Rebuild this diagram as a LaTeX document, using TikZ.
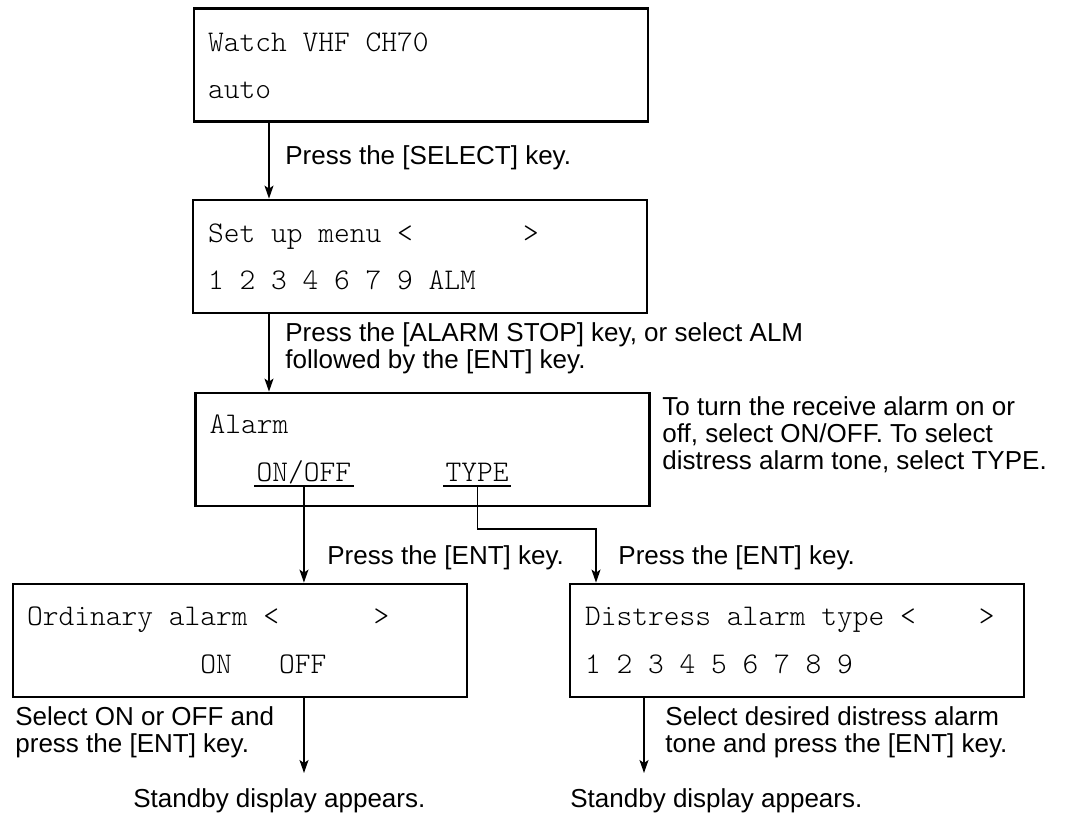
\documentclass[tikz,border=0pt]{standalone}
\usepackage{fontspec}
\setmainfont{Liberation Sans}
\usetikzlibrary{arrows.meta, positioning, calc}

\begin{document}
\begin{tikzpicture}[
    x=0.5pt, y=-0.5pt,
    screen/.style={rectangle, draw, line width=1.4pt, minimum width=227pt,
                   minimum height=56.5pt, inner sep=0pt},
    lcd/.style={font=\ttfamily\fontseries{l}\fontsize{15}{15}\selectfont, inner sep=0pt, anchor=base west},
    choice/.style={lcd, inner xsep=1pt, inner ysep=2pt, text depth=0pt},
    note/.style={font=\fontsize{13}{13.5}\selectfont, align=left, inner sep=0pt},
    arrow/.style={-{Stealth[length=6.5pt, width=4.5pt, inset=1.5pt]}, line width=0.65pt},
    link/.style={line width=0.65pt}
]
    \useasboundingbox (0,0) rectangle (1065,814);

    % Screens
    \node[screen] (watch) at (421,65) {};
    \node[screen] (setup) at (420,256.5) {};
    \node[screen] (alarm) at (422.5,449.5) {};
    \node[screen] (ordinary) at (240,640.5) {};
    \node[screen] (distress) at (797,640.5) {};

    % Screen texts
    \node[lcd] (watchA) at ([shift={(7.5pt,-22pt)}]watch.north west) {Watch VHF CH70};
    \node[lcd] (watchB) at ([shift={(7.5pt,-45.5pt)}]watch.north west) {auto};
    \node[lcd] (setupA) at ([shift={(8pt,-22pt)}]setup.north west) {Set up menu <\hphantom{0000000}>};
    \node[lcd] (setupB) at ([shift={(8pt,-45.5pt)}]setup.north west) {1 2 3 4 6 7 9 ALM};
    \node[lcd] (alarmA) at ([shift={(7.5pt,-21pt)}]alarm.north west) {Alarm};
    \node[choice] (onoff) at ([shift={(30.1pt,-45pt)}]alarm.north west) {ON/OFF};
    \node[choice] (type) at ([shift={(124.6pt,-45pt)}]alarm.north west) {TYPE};
    \node[lcd] (ordinaryA) at ([shift={(7.5pt,-21.5pt)}]ordinary.north west) {Ordinary alarm <\hphantom{000000}>};
    \node[lcd] (ordinaryB) at ([shift={(7.5pt,-45.5pt)}]ordinary.north west) {\hphantom{00000000000}ON\hphantom{000}OFF};
    \node[lcd] (distressA) at ([shift={(8pt,-21.5pt)}]distress.north west) {Distress alarm type <\hphantom{0000}>};
    \node[lcd] (distressB) at ([shift={(8pt,-45.5pt)}]distress.north west) {1 2 3 4 5 6 7 8 9};

    % Underlined choices
    \draw[link] (onoff.south west) -- (onoff.south east);
    \draw[link] (type.south west) -- (type.south east);

    % Key presses
    \coordinate (rail) at (269,0);
    \coordinate (jog) at (596,529);
    \coordinate (endL) at (304,773);
    \coordinate (endR) at (644,773);
    \draw[arrow] (rail |- watch.south) -- (rail |- setup.north);
    \draw[arrow] (rail |- setup.south) -- (rail |- alarm.north);
    \draw[arrow] (onoff.south) -- (onoff.south |- ordinary.north);
    \draw[arrow] (type.south) |- (jog) -- (jog |- distress.north);
    \draw[arrow] (endL |- ordinary.south) -- (endL);
    \draw[arrow] (endR |- distress.south) -- (endR);

    % Notes
    \node[note, anchor=base west] (selectnote) at (285,164) {Press the [SELECT] key.};
    \node[note, anchor=west] (stopnote) at (285,348) {Press the [ALARM STOP] key, or select ALM\\followed by the [ENT] key.};
    \node[note, anchor=west] (alarmnote) at (662,435) {To turn the receive alarm on or\\off, select ON/OFF. To select\\distress alarm tone, select TYPE.};
    \node[note, anchor=base west] (entL) at (327,564) {Press the [ENT] key.};
    \node[note, anchor=base west] (entR) at (618,564) {Press the [ENT] key.};
    \node[note, anchor=west] (ordnote) at (15,732) {Select ON or OFF and\\press the [ENT] key.};
    \node[note, anchor=west] (disnote) at (665,732) {Select desired distress alarm\\tone and press the [ENT] key.};
    \node[note, anchor=base west] (standbyL) at (133,807) {Standby display appears.};
    \node[note, anchor=base west] (standbyR) at (570,807) {Standby display appears.};
\end{tikzpicture}
\end{document}
